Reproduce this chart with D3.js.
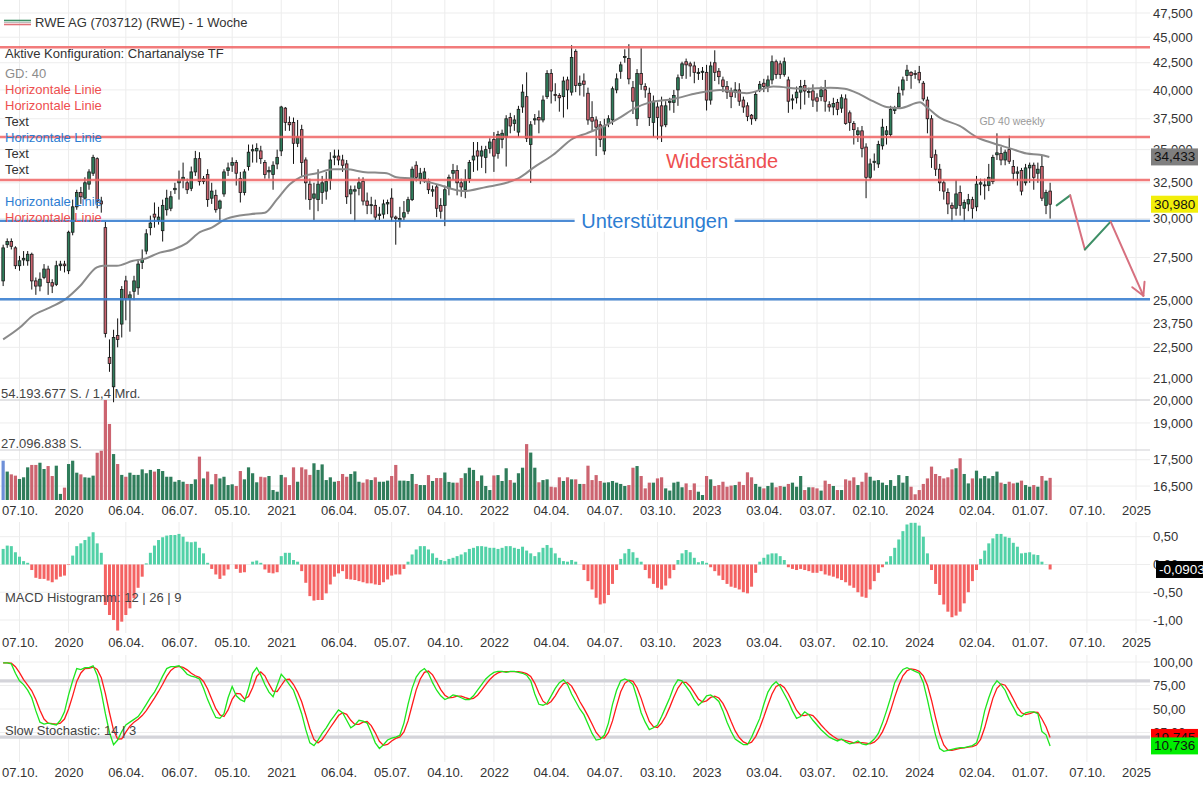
<!DOCTYPE html>
<html lang="de">
<head>
<meta charset="UTF-8">
<title>RWE AG (703712) - 1 Woche</title>
<script src="https://cdn.jsdelivr.net/npm/d3@7"></script>
<style>
  body { margin: 0; background: #fff; }
  svg { display: block; font-family: "Liberation Sans", Arial, sans-serif; }
</style>
</head>
<body>
<svg id="chart" width="1203" height="787"></svg>
<script>
// ---------- data (weekly, week index 1 = 09.09.2019) ----------
const firstMonday = new Date(2019, 8, 2);   // week index 0

// [open, high, low, close]
const candles = [
  [26.1,28.3,25.8,28.1],[28.3,28.7,28.1,28.5],[28.5,28.7,28.0,28.2],[28.1,28.2,26.8,27.0],[27.0,27.6,26.7,27.3],
  [27.35,27.9,27.0,27.45],[27.3,27.9,27.0,27.7],[27.7,27.8,25.6,26.1],[26.1,26.3,25.3,25.8],[25.8,26.6,25.5,26.2],
  [26.3,27.1,26.2,26.8],[26.8,27.0,25.3,26.0],[26.0,26.2,25.4,25.8],[25.9,27.3,25.8,27.0],[27.0,27.3,26.7,27.1],
  [27.1,27.3,26.6,27.0],[26.7,29.2,26.5,29.1],[29.1,31.3,28.9,30.8],[30.8,32.0,30.6,31.8],[31.8,32.2,31.0,31.5],
  [31.4,32.9,31.3,32.5],[32.4,33.5,32.0,33.3],[33.2,34.6,33.0,34.4],[34.3,34.4,30.7,31.2],[31.2,31.5,30.4,31.0],
  [29.4,29.8,23.0,23.2],[22.0,22.9,21.3,21.7],[20.6,23.4,19.9,23.0],[23.1,24.0,22.5,22.9],[23.7,25.8,23.0,25.6],
  [26.1,26.4,23.9,25.1],[25.1,25.5,23.3,25.3],[25.5,26.4,25.0,26.1],[25.7,27.3,25.3,27.1],[27.2,28.0,26.8,27.4],
  [27.9,29.3,27.7,29.0],[29.4,30.2,28.9,29.7],[30.3,31.1,29.4,30.1],[29.9,30.8,29.6,30.1],[29.2,31.3,28.5,30.9],
  [30.6,32.0,30.2,31.4],[30.7,31.9,30.5,31.5],[32.0,32.5,31.7,32.1],[32.5,33.4,31.3,32.7],[32.7,34.0,32.1,32.9],
  [32.5,32.8,31.7,32.0],[32.1,33.7,31.9,33.3],[33.3,34.9,33.0,34.3],[34.3,34.8,32.3,32.6],[32.6,33.0,32.4,32.8],
  [33.1,33.5,30.8,31.3],[31.4,32.5,31.0,31.9],[31.6,32.0,30.4,30.6],[30.7,31.3,29.9,31.2],[31.7,33.5,31.5,33.3],
  [33.4,34.0,33.0,33.6],[33.8,34.4,33.3,34.0],[34.0,34.2,32.3,33.2],[32.8,33.3,31.1,31.8],[31.8,33.5,31.6,33.3],
  [33.7,35.4,33.4,34.8],[34.9,35.4,34.0,35.0],[34.9,35.5,34.0,35.1],[34.9,35.3,33.9,34.3],[34.0,34.2,32.8,33.1],
  [33.3,33.7,32.8,33.4],[33.1,34.1,32.0,33.8],[33.9,35.0,33.5,34.4],[34.9,38.6,34.5,38.5],[38.4,38.5,36.5,37.2],
  [37.2,37.7,36.5,37.0],[37.2,37.6,33.9,35.5],[35.5,37.4,35.2,36.0],[36.6,37.0,33.0,34.0],[34.2,34.4,31.3,32.5],
  [32.4,32.8,30.6,31.3],[31.4,32.5,29.9,31.7],[31.3,33.5,30.5,32.4],[31.8,33.0,31.0,32.5],[31.9,33.3,31.3,32.6],
  [32.7,34.8,32.0,34.2],[34.4,35.0,33.8,34.5],[34.5,35.0,33.8,34.2],[34.2,34.6,33.3,33.8],[33.9,34.2,31.0,31.5],
  [31.7,32.3,30.3,32.0],[31.9,32.3,29.8,32.0],[32.1,32.9,31.6,32.5],[32.6,32.9,30.9,31.2],[31.2,31.8,30.3,30.9],
  [30.9,31.5,30.3,30.95],[30.9,31.3,29.9,30.1],[30.2,30.8,29.9,30.3],[30.3,31.3,30.0,31.0],[31.0,31.3,30.3,31.1],
  [31.4,32.1,29.8,30.1],[30.1,30.2,28.3,30.0],[29.9,30.8,29.4,30.0],[30.1,31.2,29.9,30.4],[30.5,31.5,30.3,31.3],
  [31.3,33.7,31.2,33.5],[33.8,34.1,32.6,32.9],[32.7,33.6,32.4,33.2],[32.8,33.6,32.5,33.3],[32.6,32.8,31.7,32.0],
  [31.9,32.3,31.5,32.0],[32.2,32.4,30.1,30.7],[30.9,31.4,30.0,30.5],[30.9,32.3,29.5,32.0],[32.1,33.1,31.6,32.9],
  [33.2,33.9,32.7,33.4],[33.4,33.8,31.6,32.5],[32.5,32.8,31.5,32.2],[32.0,33.5,31.4,32.7],[32.8,34.2,32.5,34.0],
  [34.2,35.6,33.3,34.5],[34.9,35.6,33.4,34.5],[34.5,35.3,33.6,34.9],[34.4,35.3,33.2,35.0],[35.1,35.9,34.7,35.6],
  [35.8,36.4,33.3,34.5],[34.7,36.5,34.3,36.2],[35.8,36.6,35.1,36.3],[36.0,37.8,33.7,37.5],[37.6,38.0,36.3,36.9],
  [37.1,37.8,36.5,37.4],[36.4,38.6,36.0,38.3],[38.5,40.5,38.0,39.8],[39.4,41.6,35.6,35.9],[35.4,37.3,32.5,37.0],
  [37.4,37.9,37.0,37.5],[37.6,38.2,36.3,37.4],[37.4,39.5,37.2,39.1],[39.4,41.8,39.2,41.5],[41.5,41.9,38.8,39.9],
  [39.6,40.6,39.0,39.5],[39.5,39.7,38.1,39.3],[39.4,41.2,37.6,40.8],[40.9,41.2,38.3,40.0],[39.8,44.2,39.5,43.0],
  [43.6,43.8,39.8,40.4],[40.4,41.3,39.5,40.6],[40.8,41.5,39.4,40.5],[39.7,40.2,37.0,37.4],[37.6,39.0,36.5,37.3],
  [37.4,37.7,34.5,36.8],[37.0,37.3,35.2,35.8],[34.9,37.5,34.6,36.9],[37.1,37.8,36.8,37.5],[37.4,40.3,37.0,40.1],
  [40.0,41.5,39.7,41.0],[41.7,42.6,41.0,42.3],[43.0,43.8,42.5,43.1],[42.9,44.3,40.5,41.0],[40.2,40.8,37.9,39.0],
  [37.5,41.9,36.9,41.5],[41.5,43.9,40.0,40.5],[40.3,40.6,39.3,40.0],[39.7,40.2,36.9,37.6],[37.2,39.5,36.0,39.0],
  [38.5,38.9,35.8,37.6],[38.6,39.4,35.6,36.9],[37.0,39.0,36.8,38.6],[38.9,39.3,38.2,39.0],[38.9,40.0,38.0,39.5],
  [40.0,41.4,38.6,41.1],[41.3,42.6,41.0,42.4],[42.6,42.9,41.0,42.3],[42.4,42.6,41.2,42.2],[42.2,42.6,40.6,41.6],
  [41.5,42.0,40.9,41.6],[41.6,42.1,40.9,41.7],[41.6,42.3,38.2,39.1],[39.1,42.6,38.7,42.2],[42.5,43.7,40.8,41.6],
  [41.7,42.0,40.5,41.2],[40.9,41.2,39.8,40.3],[40.3,40.8,39.2,39.8],[39.9,40.2,38.4,39.4],[39.8,40.7,39.3,40.0],
  [40.0,40.6,38.6,39.0],[39.1,39.4,38.0,38.5],[38.6,38.9,37.3,37.7],[37.8,37.9,37.0,37.5],[37.5,39.9,37.3,39.6],
  [40.0,40.8,39.8,40.5],[40.6,41.0,39.8,40.3],[40.3,41.3,39.8,40.9],[40.9,43.2,40.5,42.6],[42.6,42.8,41.0,41.4],
  [42.4,42.7,41.0,41.4],[41.4,43.0,41.2,42.6],[40.9,41.2,38.0,39.0],[39.1,39.6,38.3,39.2],[39.3,40.3,38.8,39.8],
  [39.8,40.9,38.3,40.3],[40.4,40.9,38.7,39.9],[39.8,40.2,39.3,39.85],[39.9,40.5,38.5,39.1],[39.3,39.7,38.1,39.0],
  [39.4,40.3,39.0,40.0],[40.0,40.9,38.1,39.0],[38.7,39.0,38.1,38.5],[38.5,39.3,37.8,38.8],[38.9,39.2,37.8,38.3],
  [38.4,39.6,38.0,39.3],[39.2,39.6,37.0,37.1],[38.0,38.2,36.5,37.2],[37.1,37.3,35.4,36.6],[36.2,36.8,35.6,36.5],
  [36.5,36.9,34.4,35.1],[35.2,35.5,31.4,32.9],[32.9,34.3,32.7,33.9],[34.0,34.7,33.4,34.1],[33.9,35.7,33.6,35.4],
  [35.3,37.5,35.0,36.8],[36.2,36.9,35.4,36.5],[36.2,38.6,36.0,38.3],[38.2,38.6,37.9,38.35],[38.5,40.3,38.4,39.7],
  [40.0,41.2,39.5,40.9],[41.3,42.3,40.8,41.8],[41.6,41.7,40.1,41.3],[41.5,41.8,41.0,41.45],[41.6,42.2,40.6,40.9],
  [40.6,40.8,39.0,39.2],[39.1,39.4,36.3,37.5],[37.5,37.8,33.6,34.4],[34.6,35.0,33.0,33.5],[33.5,33.9,31.9,32.5],
  [32.5,32.7,31.3,31.9],[31.8,32.1,30.3,31.0],[30.9,31.1,29.8,30.7],[30.7,32.7,30.2,31.7],[31.8,32.3,30.2,30.9],
  [30.7,31.3,29.8,31.1],[31.0,31.7,30.5,31.3],[31.3,31.5,30.0,30.7],[30.8,33.0,30.5,32.4],[32.4,32.8,31.6,32.5],
  [32.3,32.8,31.3,32.35],[32.3,33.9,31.9,32.9],[32.6,34.6,32.4,34.4],[34.6,36.3,34.2,34.75],[34.7,35.2,33.8,34.2],
  [34.2,35.0,33.8,34.8],[35.0,36.1,33.9,34.1],[33.7,34.2,32.7,33.2],[33.2,33.7,32.3,33.3],[33.4,33.6,31.6,31.9],
  [32.5,33.9,32.3,33.6],[33.6,34.0,32.5,33.8],[33.8,34.0,32.0,32.9],[33.2,34.0,32.5,33.5],[33.7,34.6,31.2,31.4],
  [30.9,32.0,30.3,31.8],[31.9,32.5,30.0,30.98]
];

// weekly volume in million shares
const volumes = [
  21.3,15.4,13.9,13.2,11.4,12.3,17.7,19.0,19.0,20.2,
  16.8,18.4,13.0,18.6,3.3,6.7,19.5,21.3,14.8,13.9,
  12.3,12.1,13.2,25.6,26.7,54.19,41.2,24.9,19.5,13.6,
  12.6,14.8,13.6,13.6,16.6,14.5,16.3,15.4,16.8,15.7,
  12.6,12.6,9.9,10.8,9.9,8.7,8.7,11.2,23.5,11.7,
  15.4,8.5,14.1,11.7,12.6,8.1,8.5,7.6,15.7,11.2,
  17.7,14.5,9.6,12.6,12.3,13.0,5.4,4.5,13.6,12.3,
  8.1,17.7,9.9,17.7,16.6,13.6,19.9,16.3,19.3,10.8,
  12.3,9.9,10.3,14.1,12.6,14.1,15.5,9.9,9.4,11.2,
  10.8,12.3,9.9,9.9,10.5,13.0,19.0,10.5,10.5,10.3,
  14.1,8.7,8.1,8.1,13.5,10.3,11.9,11.9,14.9,9.8,
  9.4,9.4,11.9,14.5,17.5,16.3,10.3,13.3,7.6,5.4,
  13.3,13.5,10.3,17.2,10.8,9.4,14.5,17.5,30.3,25.7,
  17.5,9.6,10.8,11.2,7.2,6.9,12.3,10.3,12.3,11.2,
  11.2,8.7,8.7,18.6,10.8,13.5,10.3,9.4,9.6,10.3,
  9.4,8.7,7.6,8.1,17.5,18.4,13.0,6.3,9.4,9.4,
  11.7,12.3,6.3,5.1,9.4,9.9,6.9,9.0,5.4,9.0,
  4.5,2.7,13.0,11.2,7.6,8.1,9.9,7.2,7.8,8.1,
  9.9,8.1,15.0,12.3,8.7,7.2,6.3,7.6,9.4,6.9,
  7.6,7.2,8.7,9.4,7.2,13.0,5.4,6.9,6.9,6.3,
  5.1,10.5,8.7,7.6,5.4,5.4,11.2,10.5,12.3,8.1,
  9.9,14.8,12.6,10.5,10.8,9.4,8.1,10.8,7.6,13.5,
  9.4,13.0,7.2,3.1,5.4,8.7,11.7,18.1,14.1,13.0,
  11.7,12.3,16.6,17.2,22.6,14.1,9.0,11.7,15.9,11.7,
  13.0,11.7,13.0,15.4,9.4,8.7,9.9,9.0,9.4,10.5,
  8.1,7.2,8.1,7.2,13.0,10.5,12.0
];
const volumeMax = 54.193677;

// MACD histogram 12 | 26 | 9
const macdHist = [
  0.28,0.34,0.33,0.22,0.14,0.06,0.03,-0.10,-0.24,-0.26,
  -0.26,-0.29,-0.32,-0.27,-0.22,-0.20,-0.01,0.16,0.33,0.38,
  0.44,0.50,0.58,0.38,0.21,-0.73,-0.91,-1.00,-1.19,-1.03,
  -0.91,-0.79,-0.61,-0.42,-0.22,0.02,0.21,0.34,0.44,0.49,
  0.52,0.53,0.53,0.55,0.50,0.41,0.40,0.41,0.30,0.20,
  0.03,-0.08,-0.18,-0.26,-0.20,-0.09,0.00,-0.08,-0.15,-0.14,
  0.00,0.05,0.07,0.03,-0.09,-0.15,-0.16,-0.14,0.15,0.21,
  0.21,0.08,0.05,-0.12,-0.33,-0.57,-0.65,-0.64,-0.64,-0.52,
  -0.36,-0.22,-0.16,-0.12,-0.26,-0.27,-0.28,-0.30,-0.32,-0.34,
  -0.34,-0.36,-0.37,-0.32,-0.27,-0.20,-0.18,-0.18,-0.08,0.05,
  0.18,0.27,0.33,0.33,0.27,0.20,0.12,0.08,0.06,0.10,
  0.12,0.15,0.18,0.22,0.28,0.30,0.33,0.33,0.32,0.30,
  0.30,0.28,0.30,0.33,0.33,0.30,0.28,0.32,0.25,0.20,
  0.15,0.22,0.30,0.35,0.30,0.20,0.12,0.06,0.05,0.08,
  0.05,0.00,-0.10,-0.30,-0.45,-0.60,-0.72,-0.70,-0.55,-0.35,
  -0.10,0.10,0.20,0.28,0.22,0.12,0.05,-0.10,-0.25,-0.35,
  -0.42,-0.45,-0.38,-0.25,-0.10,0.08,0.20,0.26,0.22,0.12,
  0.04,0.06,0.03,-0.05,-0.12,-0.20,-0.28,-0.35,-0.40,-0.42,
  -0.45,-0.50,-0.52,-0.40,-0.15,0.05,0.12,0.18,0.20,0.20,
  0.15,0.08,-0.05,-0.08,-0.10,-0.08,-0.10,-0.12,-0.15,-0.15,
  -0.12,-0.18,-0.20,-0.22,-0.25,-0.28,-0.32,-0.38,-0.42,-0.50,
  -0.58,-0.60,-0.45,-0.30,-0.15,-0.05,0.05,0.15,0.30,0.45,
  0.60,0.72,0.75,0.75,0.70,0.50,0.20,-0.10,-0.35,-0.55,
  -0.72,-0.85,-0.95,-0.92,-0.85,-0.70,-0.50,-0.30,-0.10,0.10,
  0.25,0.38,0.47,0.55,0.55,0.50,0.48,0.39,0.32,0.20,
  0.21,0.22,0.18,0.17,0.05,0.005,-0.09033
];

// Slow Stochastic 14 | 3, %K (green)
const stochK = [
  99,99,98,88,80,76,70,62,48,36,
  34,35,34,33,38,47,65,80,93,92,
  94,94,96,86,68,45,25,12,17,26,
  33,36,39,42,48,55,62,68,76,85,
  93,95,95,96,92,87,85,84,82,72,
  60,50,41,40,45,62,74,64,60,58,
  72,88,94,86,76,68,63,75,87,82,
  76,70,58,45,28,14,11,17,24,30,
  37,43,49,46,38,30,33,38,37,35,
  25,14,8,12,17,19,20,22,35,55,
  72,84,90,93,88,78,70,64,60,62,
  65,64,62,60,60,64,70,76,82,86,
  89,90,90,89,90,90,89,88,86,80,
  66,55,54,56,64,72,78,81,76,66,
  58,50,44,34,24,17,18,22,35,55,
  70,80,82,80,76,62,46,36,28,30,
  33,42,52,62,74,81,80,74,68,60,
  54,58,64,65,62,58,48,36,26,18,
  15,12,12,20,30,40,55,68,75,79,
  74,66,58,48,40,42,47,44,38,33,
  28,24,20,18,16,18,15,13,14,16,
  13,12,14,18,24,35,48,62,78,86,
  92,94,92,90,88,78,60,40,22,8,
  5,6,7,8,9,9,10,11,14,28,
  48,62,74,80,76,70,60,52,44,42,
  46,47,47,45,26,22.5,10.736
];

// GD 40 (moving average) read at these week indices
const gdWeeks = [1,5,8,12.5,16.5,19.8,23.9,25.4,28.8,32.8,35.3,39.3,42.6,45.9,49.1,52,55.7,61.4,65,67.9,
  71.1,73.6,77.7,81.7,85,89,94.8,97.2,101.3,103,107,113.5,119.2,124.1,127.4,130.6,135.5,140.4,143.7,148.6,
  151.8,155.5,159.1,164.9,170.6,176.3,182.8,189.3,196.6,203.2,206.8,210.5,213.7,217,220.3,225.2,226.8,230,
  234.9,239,243.1,247.2,251.3,254.5,256.8];
const gdValues = [22.9,23.5,24.1,24.6,25.1,25.8,26.9,27.0,27.0,27.3,27.4,27.8,28.0,28.4,29.1,29.4,30.0,30.3,30.4,31.3,
  32.4,32.9,33.2,33.5,33.5,33.3,33.2,32.9,32.8,32.7,32.4,31.9,32.2,32.5,32.9,33.6,34.6,35.9,36.3,37.0,
  37.6,38.4,38.9,39.2,39.7,40.0,39.7,40.3,40.1,40.2,40.1,39.6,39.0,38.5,38.4,38.9,38.5,37.6,
  36.9,36.0,35.5,35.1,34.7,34.6,34.433];

const resistanceLevels = [44.0, 36.0, 32.7];
const supportLevels = [29.85, 25.05];

// drawn forecast zig-zag (week index, price)
const forecastWeeks = [258.6, 261.9, 265.5, 271.8, 279.8];
const forecastPrices = [30.9, 31.6, 28.0, 29.8, 25.25];

const priceTicks = [47.5,45,42.5,40,37.5,35,32.5,30,27.5,25,23.75,22.5,21,20,19,17.5,16.5];
const macdTicks = [0.5,0,-0.5,-1];
const stochTicks = [100,75,50,25];
const dateTicks = ["2019-10-07","2019-12-30","2020-04-06","2020-07-06","2020-10-05","2020-12-28","2021-04-05",
  "2021-07-05","2021-10-04","2021-12-27","2022-04-04","2022-07-04","2022-10-03","2022-12-26","2023-04-03",
  "2023-07-03","2023-10-02","2023-12-25","2024-04-01","2024-07-01","2024-10-07","2024-12-30"];
const dateLabels = ["07.10.","2020","06.04.","06.07.","05.10.","2021","06.04.","05.07.","04.10.","2022","04.04.",
  "04.07.","03.10.","2023","03.04.","03.07.","02.10.","2024","02.04.","01.07.","07.10.","2025"];

const legendLines = [
  ["GD: 40", "#8c8c8c"], ["Horizontale Linie", "#ee4f4f"], ["Horizontale Linie", "#ee4f4f"], ["Text", "#333"],
  ["Horizontale Linie", "#2d7dd2"], ["Text", "#333"], ["Text", "#333"], ["", "#333"],
  ["Horizontale Linie", "#2d7dd2"], ["Horizontale Linie", "#ee4f4f"]
];

// ---------- setup ----------
const svg = d3.select("#chart");
const plotRight = 1150;
const de = d3.formatLocale({decimal: ",", thousands: ".", grouping: [3], currency: ["", " €"], minus: "-"});
const fmt3 = de.format(".3f"), fmt2 = de.format(".2f"), fmt5 = de.format(".5f");

const weekDate = i => new Date(firstMonday.getTime() + i * 7 * 864e5);
const parseDay = d3.timeParse("%Y-%m-%d");

const x = d3.scaleTime().domain([weekDate(5), weekDate(278)]).range([19.5, 1136]);
const yPrice = d3.scaleLog().domain([20, 47.5]).range([400, 13]);
const yVol = d3.scaleLinear().domain([0, volumeMax]).range([500, 400]);
const yMacd = d3.scaleLinear().domain([-1, 0.5]).range([620, 536.7]);
const yStoch = d3.scaleLinear().domain([0, 100]).range([756, 662]);

const rows = candles.map((c, j) => ({
  date: weekDate(j + 1), o: c[0], h: c[1], l: c[2], c: c[3],
  vol: volumes[j], macd: macdHist[j], k: stochK[j]
}));
// slow %D = 3-week average of %K
rows.forEach((r, j) => {
  r.d = d3.mean(stochK.slice(Math.max(0, j - 2), j + 1));
});

const panes = [
  {top: 0, bottom: 500, axisY: 501},
  {top: 522, bottom: 633, axisY: 633},
  {top: 655, bottom: 762, axisY: 763}
];

svg.append("defs").append("clipPath").attr("id", "plot")
  .append("rect").attr("x", 0).attr("y", 0).attr("width", plotRight).attr("height", 787);

const grid = svg.append("g");
const tickDates = dateTicks.map(parseDay);

panes.forEach(p => {
  grid.append("g").selectAll("line").data(tickDates).join("line")
    .attr("x1", d => x(d)).attr("x2", d => x(d))
    .attr("y1", p.top).attr("y2", p.bottom)
    .attr("stroke", "#ececec").attr("stroke-width", 1);
});

grid.append("g").selectAll("line").data(priceTicks).join("line")
  .attr("x1", 0).attr("x2", plotRight)
  .attr("y1", d => yPrice(d)).attr("y2", d => yPrice(d))
  .attr("stroke", "#ededed");
grid.append("g").selectAll("line").data(macdTicks).join("line")
  .attr("x1", 0).attr("x2", plotRight)
  .attr("y1", d => yMacd(d)).attr("y2", d => yMacd(d))
  .attr("stroke", "#ededed");
grid.append("g").selectAll("line").data(stochTicks).join("line")
  .attr("x1", 0).attr("x2", plotRight)
  .attr("y1", d => yStoch(d)).attr("y2", d => yStoch(d))
  .attr("stroke", "#ededed");

// volume reference lines
grid.append("g").selectAll("line").data([volumeMax, volumeMax / 2]).join("line")
  .attr("x1", 0).attr("x2", plotRight)
  .attr("y1", d => yVol(d)).attr("y2", d => yVol(d))
  .attr("stroke", "#cfcfd4").attr("stroke-width", 1.2);

const plot = svg.append("g").attr("clip-path", "url(#plot)");
const green = "#2f7d5b", red = "#cc6470";

// ---------- volume ----------
plot.append("g").selectAll("rect").data(rows).join("rect")
  .attr("x", d => x(d.date) - 1.6).attr("width", 3.2)
  .attr("y", d => yVol(d.vol)).attr("height", d => yVol(0) - yVol(d.vol))
  .attr("fill", (d, j) => j === 0 ? "#6d8fd8" : (d.c >= d.o ? green : red));

// ---------- candles ----------
const cg = plot.append("g");
cg.selectAll("line").data(rows).join("line")
  .attr("x1", d => x(d.date)).attr("x2", d => x(d.date))
  .attr("y1", d => yPrice(d.h)).attr("y2", d => yPrice(d.l))
  .attr("stroke", "#111").attr("stroke-width", 1);
cg.selectAll("rect").data(rows).join("rect")
  .attr("x", d => x(d.date) - 1.3).attr("width", 2.6)
  .attr("y", d => yPrice(Math.max(d.o, d.c)))
  .attr("height", d => Math.max(1, yPrice(Math.min(d.o, d.c)) - yPrice(Math.max(d.o, d.c))))
  .attr("fill", d => d.c >= d.o ? green : red)
  .attr("stroke", "#1a1a1a").attr("stroke-width", 0.8);

// ---------- GD 40 ----------
const gdLine = d3.line().x((d, j) => x(weekDate(gdWeeks[j]))).y(d => yPrice(d)).curve(d3.curveMonotoneX);
plot.append("path").attr("d", gdLine(gdValues))
  .attr("fill", "none").attr("stroke", "#8a8a8a").attr("stroke-width", 2);

// ---------- horizontal levels ----------
plot.append("g").selectAll("line").data(resistanceLevels).join("line")
  .attr("x1", 0).attr("x2", plotRight)
  .attr("y1", d => yPrice(d)).attr("y2", d => yPrice(d))
  .attr("stroke", "#f06464").attr("stroke-width", 2.4).attr("stroke-opacity", 0.85);
plot.append("g").selectAll("line").data(supportLevels).join("line")
  .attr("x1", 0).attr("x2", plotRight)
  .attr("y1", d => yPrice(d)).attr("y2", d => yPrice(d))
  .attr("stroke", "#3a80d0").attr("stroke-width", 2.4).attr("stroke-opacity", 0.9);

// labels on the levels
const wx = x(weekDate(176.8)), wy = (yPrice(resistanceLevels[1]) + yPrice(resistanceLevels[2])) / 2 + 2;
plot.append("text").attr("x", wx).attr("y", wy).attr("text-anchor", "middle")
  .attr("dominant-baseline", "central").attr("font-size", 20).attr("fill", "#ee4f4f").text("Widerstände");

const ux = x(weekDate(160.3)), uy = yPrice(supportLevels[0]);
plot.append("rect").attr("x", ux - 80).attr("y", uy - 11).attr("width", 160).attr("height", 22).attr("fill", "#fff");
plot.append("text").attr("x", ux).attr("y", uy).attr("text-anchor", "middle")
  .attr("dominant-baseline", "central").attr("font-size", 20).attr("fill", "#2d7dd2").text("Unterstützungen");

plot.append("text").attr("x", x(weekDate(247.7))).attr("y", yPrice(37.3))
  .attr("text-anchor", "middle").attr("dominant-baseline", "central")
  .attr("font-size", 10.5).attr("fill", "#9a9a9a").text("GD 40 weekly");

// ---------- forecast zig-zag ----------
const fpts = forecastWeeks.map((w, j) => [x(weekDate(w)), yPrice(forecastPrices[j])]);
const fg = plot.append("g").attr("fill", "none").attr("stroke-width", 2).attr("stroke-linecap", "round");
for (let j = 0; j < fpts.length - 1; j++) {
  fg.append("line").attr("x1", fpts[j][0]).attr("y1", fpts[j][1])
    .attr("x2", fpts[j + 1][0]).attr("y2", fpts[j + 1][1])
    .attr("stroke", forecastPrices[j + 1] > forecastPrices[j] ? "#3e8f66" : "#d7707f");
}
{
  const a = fpts[fpts.length - 2], b = fpts[fpts.length - 1];
  const ang = Math.atan2(b[1] - a[1], b[0] - a[0]);
  [-0.5, 0.5].forEach(s => {
    fg.append("line").attr("x1", b[0]).attr("y1", b[1])
      .attr("x2", b[0] - 14 * Math.cos(ang + s)).attr("y2", b[1] - 14 * Math.sin(ang + s))
      .attr("stroke", "#d7707f");
  });
}

// ---------- MACD histogram ----------
plot.append("g").selectAll("rect").data(rows).join("rect")
  .attr("x", d => x(d.date) - 1.5).attr("width", 3)
  .attr("y", d => Math.min(yMacd(0), yMacd(d.macd)))
  .attr("height", d => Math.abs(yMacd(d.macd) - yMacd(0)))
  .attr("fill", d => d.macd >= 0 ? "#52d1a7" : "#f46262");

// ---------- stochastic ----------
plot.append("g").selectAll("line").data([80, 20]).join("line")
  .attr("x1", 0).attr("x2", plotRight + 3)
  .attr("y1", d => yStoch(d)).attr("y2", d => yStoch(d))
  .attr("stroke", "#d4d4da").attr("stroke-width", 3.2);
plot.append("path").attr("d", d3.line().x(d => x(d.date)).y(d => yStoch(d.d))(rows))
  .attr("fill", "none").attr("stroke", "#ff1a1a").attr("stroke-width", 1.3);
plot.append("path").attr("d", d3.line().x(d => x(d.date)).y(d => yStoch(d.k))(rows))
  .attr("fill", "none").attr("stroke", "#1ee61e").attr("stroke-width", 1.3);

// ---------- axes ----------
panes.forEach(p => {
  const ax = svg.append("g").attr("transform", `translate(0,${p.axisY})`)
    .call(d3.axisBottom(x).tickValues(tickDates).tickFormat((d, j) => dateLabels[j]).tickSize(0).tickPadding(5));
  ax.select(".domain").remove();
  ax.selectAll("text").attr("font-size", 13).attr("fill", "#333").attr("font-family", "Liberation Sans, Arial, sans-serif");
});

function rightAxis(scale, ticks, f) {
  const ax = svg.append("g").attr("transform", `translate(${plotRight},0)`)
    .call(d3.axisRight(scale).tickValues(ticks).tickFormat(f).tickSize(0).tickPadding(3));
  ax.select(".domain").remove();
  ax.selectAll("text").attr("font-size", 13).attr("fill", "#333").attr("font-family", "Liberation Sans, Arial, sans-serif");
}
rightAxis(yPrice, priceTicks, fmt3);
rightAxis(yMacd, macdTicks, fmt2);
rightAxis(yStoch, [100, 75, 50, 25], fmt2);

// ---------- texts ----------
svg.append("line").attr("x1", 4).attr("x2", 31).attr("y1", 20.5).attr("y2", 20.5).attr("stroke", "#3e8f66").attr("stroke-width", 1.6);
svg.append("line").attr("x1", 4).attr("x2", 31).attr("y1", 22.5).attr("y2", 22.5).attr("stroke", "#bbb").attr("stroke-width", 1);
svg.append("line").attr("x1", 4).attr("x2", 31).attr("y1", 24.5).attr("y2", 24.5).attr("stroke", "#e07078").attr("stroke-width", 1.6);
svg.append("text").attr("x", 35).attr("y", 27).attr("font-size", 13).attr("fill", "#333")
  .text("RWE AG (703712) (RWE) - 1 Woche");
svg.append("text").attr("x", 5).attr("y", 58).attr("font-size", 13).attr("fill", "#333")
  .text("Aktive Konfiguration: Chartanalyse TF");
svg.append("g").selectAll("text").data(legendLines).join("text")
  .attr("x", 5).attr("y", (d, j) => 78 + j * 16).attr("font-size", 13)
  .attr("fill", d => d[1]).text(d => d[0]);

svg.append("text").attr("x", 1).attr("y", 398).attr("font-size", 13).attr("fill", "#444")
  .text("54.193.677 S. / 1,4 Mrd.");
svg.append("text").attr("x", 1).attr("y", 448).attr("font-size", 13).attr("fill", "#444")
  .text("27.096.838 S.");
svg.append("text").attr("x", 5).attr("y", 602).attr("font-size", 13).attr("fill", "#444")
  .text("MACD Histogramm: 12 | 26 | 9");
svg.append("text").attr("x", 5).attr("y", 735).attr("font-size", 13).attr("fill", "#444")
  .text("Slow Stochastic: 14 | 3");

// ---------- value boxes ----------
function valueBox(y, label, bg, fg, x0, w) {
  const g = svg.append("g");
  g.append("rect").attr("x", x0).attr("y", y - 8.5).attr("width", w).attr("height", 17).attr("fill", bg);
  g.append("text").attr("x", x0 + 3).attr("y", y).attr("dominant-baseline", "central")
    .attr("font-size", 13.5).attr("fill", fg).text(label);
}
const last = rows[rows.length - 1];
valueBox(yPrice(gdValues[gdValues.length - 1]), fmt3(gdValues[gdValues.length - 1]), "#7f7f7f", "#111", 1151, 47);
valueBox(yPrice(last.c), fmt3(last.c), "#f2ee0a", "#111", 1151, 47);
valueBox(yMacd(last.macd), fmt5(last.macd), "#000", "#fff", 1156, 50);
valueBox(yStoch(last.d), fmt3(last.d), "#ff0000", "#111", 1151, 47);
valueBox(yStoch(last.k), fmt3(last.k), "#00ee00", "#111", 1151, 47);
</script>
</body>
</html>
